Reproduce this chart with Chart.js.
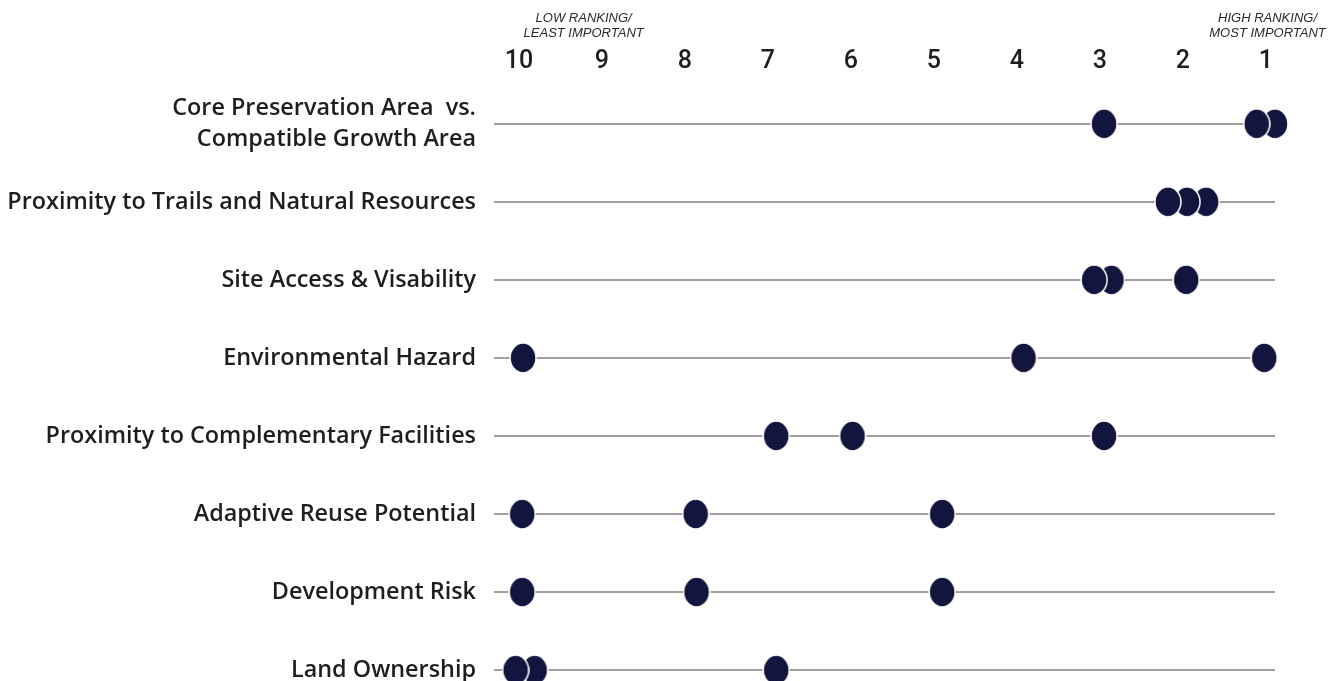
<!DOCTYPE html>
<html>
<head>
<meta charset="utf-8">
<script src="https://cdn.jsdelivr.net/npm/chart.js@4.4.1/dist/chart.umd.min.js"></script>
<style>
    body { margin: 0; background: #fff; }
    #wrap { width: 1336px; height: 681px; position: relative; }
</style>
</head>
<body>
<div id="wrap"><canvas id="rankChart"></canvas></div>
<script>
// criteria, top to bottom
const criteria = [
    ['Core Preservation Area  vs.', 'Compatible Growth Area'],
    'Proximity to Trails and Natural Resources',
    'Site Access & Visability',
    'Environmental Hazard',
    'Proximity to Complementary Facilities',
    'Adaptive Reuse Potential',
    'Development Risk',
    'Land Ownership'
];

// rankings given for each criterion (one list per row)
const rankings = [
    [0.89, 1.11, 2.95],
    [1.72, 1.95, 2.18],
    [1.96, 2.86, 3.07],
    [1.02, 3.92, 9.95],
    [2.95, 5.98, 6.9],
    [4.9, 7.87, 9.96],
    [4.9, 7.86, 9.96],
    [6.9, 9.81, 10.04]
];

const rankTicks = [10, 9, 8, 7, 6, 5, 4, 3, 2, 1];

const dotColor = '#12163f';

// dot image: slightly tall ellipse with a thin white rim
function makeDot() {
    const c = document.createElement('canvas');
    c.width = 28;
    c.height = 32;
    const ctx = c.getContext('2d');
    ctx.beginPath();
    ctx.ellipse(14, 16, 13, 15, 0, 0, Math.PI * 2);
    ctx.fillStyle = dotColor;
    ctx.fill();
    ctx.lineWidth = 1.5;
    ctx.strokeStyle = '#ffffff';
    ctx.stroke();
    return c;
}

const points = [];
rankings.forEach(function (row, i) {
    row.forEach(function (v) {
        points.push({ x: v, y: i });
    });
});

// top notes over the ends of the rank axis
const endNotes = {
    id: 'endNotes',
    afterDraw(chart) {
        const ctx = chart.ctx;
        const x = chart.scales.x;
        ctx.save();
        ctx.fillStyle = '#2a2a2a';
        ctx.font = 'italic 13px "Liberation Sans", Arial, sans-serif';
        ctx.textAlign = 'center';
        ctx.textBaseline = 'middle';
        const lowX = x.getPixelForValue(9.22);
        const highX = x.getPixelForValue(0.98);
        ctx.fillText('LOW RANKING/', lowX, 18);
        ctx.fillText('LEAST IMPORTANT', lowX, 33);
        ctx.fillText('HIGH RANKING/', highX, 18);
        ctx.fillText('MOST IMPORTANT', highX, 33);
        ctx.restore();
    }
};

const rankChart = new Chart(document.getElementById('rankChart'), {
    type: 'scatter',
    data: {
        datasets: [{
            data: points,
            pointStyle: makeDot(),
            pointRadius: 14,
            pointHoverRadius: 14,
            clip: false
        }]
    },
    options: {
        responsive: true,
        maintainAspectRatio: false,
        animation: false,
        layout: { autoPadding: false, padding: { left: 0, right: 61, top: 0, bottom: 0 } },
        plugins: {
            legend: { display: false },
            tooltip: { enabled: false }
        },
        scales: {
            x: {
                type: 'linear',
                position: 'top',
                reverse: true,
                min: 0.89,
                max: 10.3,
                afterBuildTicks: function (axis) {
                    axis.ticks = rankTicks.map(function (v) { return { value: v }; });
                },
                afterFit: function (axis) {
                    axis.height = 77;
                    axis.paddingLeft = 0;
                    axis.paddingRight = 0;
                },
                grid: { display: false, drawTicks: false },
                border: { display: false },
                ticks: {
                    padding: 0,
                    maxRotation: 0,
                    autoSkip: false,
                    color: '#1e1e1e',
                    font: { family: 'Roboto, "Liberation Sans", sans-serif', size: 25, weight: '500' }
                }
            },
            y: {
                type: 'linear',
                reverse: true,
                min: -0.6,
                max: 7.14,
                afterBuildTicks: function (axis) {
                    axis.ticks = criteria.map(function (c, i) { return { value: i }; });
                },
                afterFit: function (axis) {
                    axis.width = 494;
                    axis.paddingTop = 0;
                    axis.paddingBottom = 0;
                },
                grid: {
                    color: '#a0a0a0',
                    lineWidth: 2,
                    drawTicks: false
                },
                border: { display: false },
                ticks: {
                    padding: 18,
                    autoSkip: false,
                    color: '#1e1e1e',
                    font: { family: '"Open Sans", sans-serif', size: 23.4, weight: '600', lineHeight: 1.3 },
                    callback: function (value) { return criteria[value]; }
                }
            }
        }
    },
    plugins: [endNotes]
});
</script>
</body>
</html>
